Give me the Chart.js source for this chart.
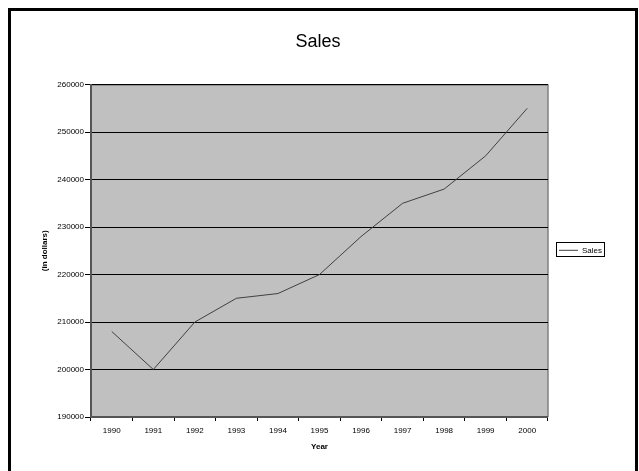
<!DOCTYPE html>
<html>
<head>
<meta charset="utf-8">
<script src="https://cdn.jsdelivr.net/npm/chart.js@4.4.1/dist/chart.umd.min.js"></script>
<style>
  html, body { margin: 0; padding: 0; background: #fff; }
  #wrap { position: absolute; left: 0; top: 0; width: 639px; height: 471px; }
</style>
</head>
<body>
<div id="wrap"><canvas id="salesChart" width="639" height="471"></canvas></div>
<script>
const years = ["1990", "1991", "1992", "1993", "1994", "1995", "1996", "1997", "1998", "1999", "2000"];
const sales = [208000, 200000, 210000, 215000, 216000, 220000, 228000, 235000, 238000, 245000, 255000];
const yMin = 190000;
const yMax = 260000;
const yStep = 10000;

// white page, black frame and grey plot area
const framePlugin = {
    id: "frame",
    beforeDraw(chart) {
        const ctx = chart.ctx;
        const a = chart.chartArea;
        ctx.save();
        ctx.fillStyle = "#ffffff";
        ctx.fillRect(0, 0, chart.width, chart.height);
        ctx.strokeStyle = "#000000";
        ctx.lineWidth = 3;
        ctx.strokeRect(9.5, 9.5, 627, 480);
        ctx.fillStyle = "#c0c0c0";
        ctx.fillRect(a.left, a.top, a.right - a.left, a.bottom - a.top);
        ctx.strokeStyle = "#808080";
        ctx.lineWidth = 1.5;
        ctx.beginPath();
        ctx.moveTo(a.left, a.top + 0.5);
        ctx.lineTo(a.right, a.top + 0.5);
        ctx.lineTo(a.right, a.bottom);
        ctx.stroke();
        ctx.restore();
    },
    afterDraw(chart) {
        const lg = chart.legend;
        if (!lg || !lg.legendHitBoxes.length) return;
        const hb = lg.legendHitBoxes[0];
        const ctx = chart.ctx;
        ctx.save();
        ctx.strokeStyle = "#000000";
        ctx.lineWidth = 1;
        ctx.strokeRect(Math.round(hb.left) - 2.5, Math.round(hb.top) - 3.5, Math.round(hb.width) + 5, Math.round(hb.height) + 6);
        ctx.restore();
    }
};

const ctx = document.getElementById("salesChart").getContext("2d");
new Chart(ctx, {
    type: "line",
    data: {
        labels: years,
        datasets: [{
            label: "Sales",
            data: sales,
            borderColor: "#404040",
            backgroundColor: "#404040",
            borderWidth: 1,
            pointRadius: 0,
            tension: 0,
            fill: false
        }]
    },
    options: {
        responsive: false,
        animation: false,
        layout: {
            padding: { left: 24, top: 10, right: 27, bottom: 0 }
        },
        plugins: {
            title: {
                display: true,
                text: "Sales",
                color: "#000",
                font: { family: "Arial, 'Liberation Sans'", size: 18, weight: "normal" },
                padding: { top: 21, bottom: 32 }
            },
            legend: {
                position: "right",
                title: {
                    display: true,
                    text: " ",
                    font: { size: 8 },
                    padding: { top: 0, bottom: 10 }
                },
                labels: {
                    color: "#000",
                    font: { family: "Arial, 'Liberation Sans'", size: 8 },
                    usePointStyle: true,
                    pointStyle: "line",
                    pointStyleWidth: 19,
                    boxWidth: 19,
                    padding: 11
                }
            },
            tooltip: { enabled: false }
        },
        scales: {
            x: {
                offset: true,
                afterFit: function (s) { s.height = 54; },
                grid: {
                    offset: true,
                    drawOnChartArea: false,
                    drawTicks: true,
                    tickLength: 4,
                    color: "#000"
                },
                border: { display: true, color: "#555", width: 2 },
                ticks: {
                    color: "#000",
                    padding: 5,
                    maxRotation: 0,
                    font: { family: "Arial, 'Liberation Sans'", size: 8 }
                },
                title: {
                    display: true,
                    text: "Year",
                    color: "#000",
                    font: { family: "Arial, 'Liberation Sans'", size: 8, weight: "bold" },
                    padding: { top: 7, bottom: 19 }
                }
            },
            y: {
                min: yMin,
                max: yMax,
                afterFit: function (s) { s.width = 67; },
                grid: {
                    color: "#000",
                    lineWidth: 1,
                    drawTicks: true,
                    tickLength: 6
                },
                border: { display: true, color: "#555", width: 2 },
                ticks: {
                    stepSize: yStep,
                    color: "#000",
                    padding: 1,
                    font: { family: "Arial, 'Liberation Sans'", size: 8 },
                    callback: function (value) {
                        return String(value);
                    }
                },
                title: {
                    display: true,
                    text: "(in dollars)",
                    color: "#000",
                    font: { family: "Arial, 'Liberation Sans'", size: 8, weight: "bold" },
                    padding: { top: 16, bottom: 0 }
                }
            }
        }
    },
    plugins: [framePlugin]
});
</script>
</body>
</html>
